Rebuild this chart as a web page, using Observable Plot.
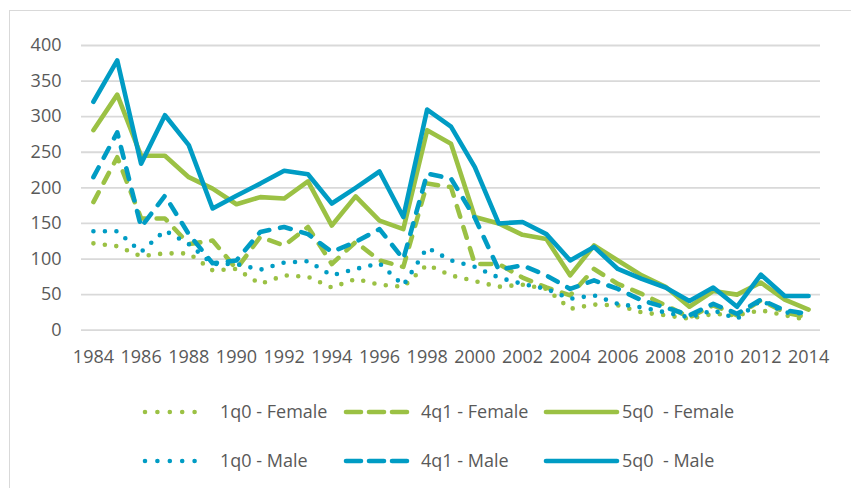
<!DOCTYPE html>
<html>
<head>
<meta charset="utf-8">
<script src="https://cdn.jsdelivr.net/npm/d3@7"></script>
<script src="https://cdn.jsdelivr.net/npm/@observablehq/plot@0.6"></script>
<style>
  html, body { margin: 0; padding: 0; background: #fff; }
  #wrap { position: relative; width: 851px; height: 488px; overflow: hidden; font-family: "Open Sans", sans-serif; }
  #frame { position: absolute; left: 9px; top: 10px; right: -5px; bottom: -5px; border-top: 1.5px solid #d9d9d9; border-left: 1.5px solid #d9d9d9; }
  #chart { position: absolute; left: 0; top: 0; }
  #legend { position: absolute; left: 0; top: 385px; }
</style>
</head>
<body>
<div id="wrap"><div id="frame"></div><div id="chart"></div><svg id="legend" width="851" height="103"></svg></div>
<script>
const years = d3.range(1984, 2015);
const xTicks = d3.range(1984, 2015, 2);
const yTicks = [0, 50, 100, 150, 200, 250, 300, 350, 400];

const f1q0 = [122,118,104,108,108,84,86,65,77,75,60,72,64,61,92,77,69,61,64,58,30,36,35,25,21,16,23,21,28,21,14];
const f4q1 = [180,243,157,157,121,126,86,131,119,145,93,124,98,89,206,201,93,93,74,60,49,86,65,51,35,18,35,21,42,25,18];
const f5q0 = [281,331,245,245,215,199,177,187,185,209,147,188,154,142,281,262,159,150,134,128,77,119,98,77,61,33,55,50,67,43,29];
const m1q0 = [139,139,110,140,121,93,93,85,95,97,77,86,94,63,116,98,89,74,65,58,44,49,37,32,25,18,28,16,42,25,23];
const m4q1 = [215,278,145,189,135,94,98,138,145,135,110,124,142,100,220,213,158,85,91,77,58,70,58,42,32,21,37,23,43,28,23];
const m5q0 = [321,379,234,302,260,171,189,206,224,219,178,200,223,159,310,286,229,150,152,135,98,117,86,72,60,41,60,33,78,48,48];

const seriesNames = ["1q0 - Female", "4q1 - Female", "5q0  - Female", "1q0 - Male", "4q1 - Male", "5q0  - Male"];
const seriesValues = [f1q0, f4q1, f5q0, m1q0, m4q1, m5q0];

const GREEN = "#9bc144";
const BLUE = "#009cc4";
const styles = [
  {stroke: GREEN, dash: "0,11.5"},
  {stroke: GREEN, dash: "11,11"},
  {stroke: GREEN, dash: null},
  {stroke: BLUE, dash: "0,11.5"},
  {stroke: BLUE, dash: "11,11"},
  {stroke: BLUE, dash: null}
];
const W = 4.6;
const FS = 18;

const lineMarks = seriesValues.map((vals, i) => {
  const data = years.map((y, j) => ({year: y, value: vals[j]}));
  const opts = {x: "year", y: "value", stroke: styles[i].stroke, strokeWidth: W,
    strokeLinecap: "round", strokeLinejoin: "round"};
  if (styles[i].dash) opts.strokeDasharray = styles[i].dash;
  return Plot.line(data, opts);
});

const chart = Plot.plot({
  width: 851,
  height: 380,
  marginTop: 45,
  marginBottom: 50.3,
  marginLeft: 81,
  marginRight: 31,
  style: {fontFamily: "'Open Sans', sans-serif", fontSize: FS + "px", color: "#595959", background: "transparent"},
  x: {domain: [1983.5, 2014.5]},
  y: {domain: [0, 400]},
  marks: [
    Plot.ruleY(yTicks, {stroke: "#d9d9d9", strokeWidth: 1.8}),
    Plot.axisY({ticks: yTicks, tickSize: 0, tickPadding: 20, label: null, fontSize: FS, fill: "#595959"}),
    Plot.axisX({ticks: xTicks, tickSize: 0, tickPadding: 20, tickFormat: d => String(d), label: null, fontSize: FS, fill: "#595959"}),
    ...lineMarks
  ]
});
document.getElementById("chart").appendChild(chart);

// Legend
const legend = d3.select("#legend");
const rowsY = [27, 76];
const colX = [[143, 207, 220], [344, 409, 421], [546, 617, 622]];
seriesNames.forEach((name, i) => {
  const r = Math.floor(i / 3), c = i % 3;
  const y = rowsY[r];
  const [x1, x2, tx] = colX[c];
  const ln = legend.append("line")
    .attr("x1", x1 + (styles[i].dash ? 2 : 0)).attr("x2", x2 - (styles[i].dash ? 2 : 0))
    .attr("y1", y).attr("y2", y)
    .attr("stroke", styles[i].stroke).attr("stroke-width", W)
    .attr("stroke-linecap", "round");
  if (styles[i].dash === "0,11.5") ln.attr("stroke-dasharray", "0,12.4");
  else if (styles[i].dash) ln.attr("stroke-dasharray", "15,8");
  legend.append("text")
    .attr("x", tx).attr("y", y).attr("dy", "0.35em")
    .attr("fill", "#595959").attr("font-size", FS)
    .attr("font-family", "'Open Sans', sans-serif")
    .style("white-space", "pre")
    .attr("xml:space", "preserve")
    .text(name);
});
</script>
</body>
</html>
